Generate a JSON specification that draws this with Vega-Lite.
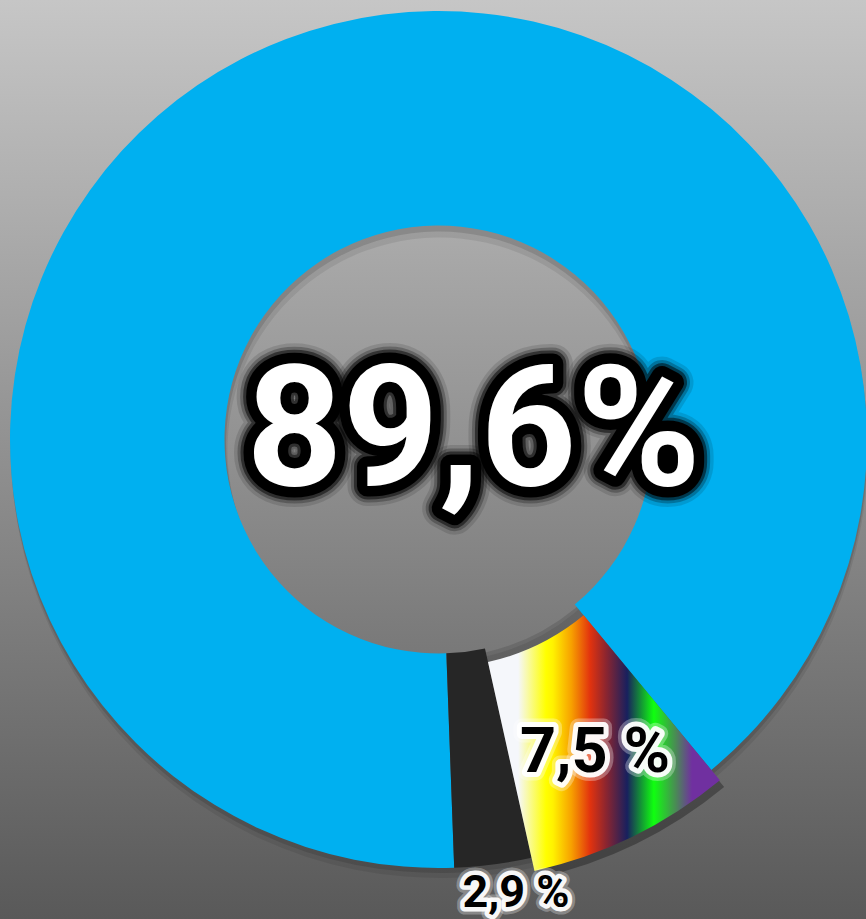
{
  "$schema": "https://vega.github.io/schema/vega-lite/v6.json",
  "autosize": "none",
  "width": 866,
  "height": 919,
  "padding": 0,
  "background": "#8f8f8f",
  "config": {"view": {"stroke": null}},
  "data": {
    "values": [
      {"name": "blue", "value": 89.6, "ord": 1, "label": "89,6%"},
      {"name": "rainbow", "value": 7.5, "ord": 2, "label": "7,5 %"},
      {"name": "dark", "value": 2.9, "ord": 3, "label": "2,9 %"}
    ]
  },
  "layer": [
    {
      "transform": [{"filter": "datum.ord === 1"}],
      "mark": {
        "type": "rect",
        "color": {
          "gradient": "linear", "x1": 0, "y1": 0, "x2": 0, "y2": 1,
          "stops": [{"offset": 0, "color": "#c6c6c6"}, {"offset": 1, "color": "#595959"}]
        }
      },
      "encoding": {}
    },
    {
      "mark": {"type": "arc", "radius": 428.5, "radius2": 212, "xOffset": 6.5, "yOffset": -10, "fill": "#000000", "fillOpacity": 0.08},
      "encoding": {
        "theta": {"field": "value", "type": "quantitative", "stack": true, "scale": {"domain": [0, 100], "range": [3.10494, 9.38813]}},
        "order": {"field": "ord"}
      }
    },
    {
      "mark": {"type": "arc", "radius": 428.5, "radius2": 213, "xOffset": 6, "yOffset": -15, "fill": "#000000", "fillOpacity": 0.12},
      "encoding": {
        "theta": {"field": "value", "type": "quantitative", "stack": true, "scale": {"domain": [0, 100], "range": [3.10494, 9.38813]}},
        "order": {"field": "ord"}
      }
    },
    {
      "mark": {"type": "arc", "radius": 444, "radius2": 230, "xOffset": 8.5, "yOffset": -15, "fill": "#000000"},
      "encoding": {
        "theta": {"field": "value", "type": "quantitative", "stack": true, "scale": {"domain": [0, 100], "range": [3.10494, 9.38813]}},
        "order": {"field": "ord"},
        "fillOpacity": {"condition": {"test": "datum.ord === 2", "value": 0.3}, "value": 0}
      }
    },
    {
      "mark": {"type": "arc", "radius": 428.5, "radius2": 214, "xOffset": 5.5, "yOffset": -20},
      "encoding": {
        "theta": {"field": "value", "type": "quantitative", "stack": true, "scale": {"domain": [0, 100], "range": [3.10494, 9.38813]}},
        "order": {"field": "ord"},
        "color": {"field": "name", "type": "nominal", "legend": null,
          "scale": {"domain": ["blue", "rainbow", "dark"], "range": ["#00b0f0", "rgba(0,0,0,0)", "#262626"]}}
      }
    },
    {
      "mark": {
        "type": "arc", "radius": 442, "radius2": 228, "xOffset": 5.5, "yOffset": -20,
        "fill": {
          "gradient": "linear", "x1": 0, "y1": 0, "x2": 1, "y2": 0,
          "stops": [
            {"offset": 0, "color": "#f5f7fb"},
            {"offset": 0.13, "color": "#f5f7fb"},
            {"offset": 0.25, "color": "#ffff00"},
            {"offset": 0.28, "color": "#fff200"},
            {"offset": 0.36, "color": "#f7a000"},
            {"offset": 0.44, "color": "#e2330e"},
            {"offset": 0.51, "color": "#8b2530"},
            {"offset": 0.6, "color": "#18205e"},
            {"offset": 0.715, "color": "#10ff10"},
            {"offset": 0.81, "color": "#4a8a55"},
            {"offset": 0.88, "color": "#7030a0"},
            {"offset": 1, "color": "#7030a0"}
          ]
        }
      },
      "encoding": {
        "theta": {"field": "value", "type": "quantitative", "stack": true, "scale": {"domain": [0, 100], "range": [3.10494, 9.38813]}},
        "order": {"field": "ord"},
        "fillOpacity": {"condition": {"test": "datum.ord === 2", "value": 1}, "value": 0}
      }
    },
    {
      "transform": [{"filter": "datum.ord === 1"}],
      "mark": {"type": "text", "font": "Roboto", "fontWeight": "bold", "fontSize": 168, "align": "center", "baseline": "alphabetic", "dx": 40.5, "dy": 25.5,
        "fill": "#000000", "stroke": "#000000", "strokeWidth": 40, "strokeOpacity": 0.12, "strokeJoin": "round"},
      "encoding": {"text": {"field": "label"}}
    },
    {
      "transform": [{"filter": "datum.ord === 1"}],
      "mark": {"type": "text", "font": "Roboto", "fontWeight": "bold", "fontSize": 168, "align": "center", "baseline": "alphabetic", "dx": 40.5, "dy": 25.5,
        "fill": "#000000", "stroke": "#000000", "strokeWidth": 33, "strokeOpacity": 0.25, "strokeJoin": "round"},
      "encoding": {"text": {"field": "label"}}
    },
    {
      "transform": [{"filter": "datum.ord === 1"}],
      "mark": {"type": "text", "font": "Roboto", "fontWeight": "bold", "fontSize": 168, "align": "center", "baseline": "alphabetic", "dx": 40.5, "dy": 25.5,
        "fill": "#000000", "stroke": "#000000", "strokeWidth": 27, "strokeOpacity": 0.5, "strokeJoin": "round"},
      "encoding": {"text": {"field": "label"}}
    },
    {
      "transform": [{"filter": "datum.ord === 1"}],
      "mark": {"type": "text", "font": "Roboto", "fontWeight": "bold", "fontSize": 168, "align": "center", "baseline": "alphabetic", "dx": 40.5, "dy": 25.5,
        "fill": "#000000", "stroke": "#000000", "strokeWidth": 21, "strokeOpacity": 1, "strokeJoin": "round"},
      "encoding": {"text": {"field": "label"}}
    },
    {
      "transform": [{"filter": "datum.ord === 1"}],
      "mark": {"type": "text", "font": "Roboto", "fontWeight": "bold", "fontSize": 168, "align": "center", "baseline": "alphabetic", "dx": 40.5, "dy": 25.5, "fill": "#ffffff"},
      "encoding": {"text": {"field": "label"}}
    },
    {
      "mark": {"type": "text", "font": "Roboto", "fontWeight": "bold", "fontSize": 63, "align": "center", "baseline": "alphabetic",
        "radius": 367.5, "thetaOffset": 0.0147, "xOffset": 5.5, "yOffset": -20,
        "fill": "#ffffff", "stroke": "#ffffff", "strokeWidth": 17, "strokeOpacity": 0.3, "strokeJoin": "round"},
      "encoding": {
        "theta": {"field": "value", "type": "quantitative", "stack": true, "scale": {"domain": [0, 100], "range": [3.10494, 9.38813]}},
        "order": {"field": "ord"},
        "text": {"condition": {"test": "datum.ord === 2", "field": "label"}, "value": ""}
      }
    },
    {
      "mark": {"type": "text", "font": "Roboto", "fontWeight": "bold", "fontSize": 63, "align": "center", "baseline": "alphabetic",
        "radius": 367.5, "thetaOffset": 0.0147, "xOffset": 5.5, "yOffset": -20,
        "fill": "#ffffff", "stroke": "#ffffff", "strokeWidth": 10, "strokeOpacity": 0.95, "strokeJoin": "round"},
      "encoding": {
        "theta": {"field": "value", "type": "quantitative", "stack": true, "scale": {"domain": [0, 100], "range": [3.10494, 9.38813]}},
        "order": {"field": "ord"},
        "text": {"condition": {"test": "datum.ord === 2", "field": "label"}, "value": ""}
      }
    },
    {
      "mark": {"type": "text", "font": "Roboto", "fontWeight": "bold", "fontSize": 63, "align": "center", "baseline": "alphabetic",
        "radius": 367.5, "thetaOffset": 0.0147, "xOffset": 5.5, "yOffset": -20, "fill": "#000000"},
      "encoding": {
        "theta": {"field": "value", "type": "quantitative", "stack": true, "scale": {"domain": [0, 100], "range": [3.10494, 9.38813]}},
        "order": {"field": "ord"},
        "text": {"condition": {"test": "datum.ord === 2", "field": "label"}, "value": ""}
      }
    },
    {
      "mark": {"type": "text", "font": "Roboto", "fontWeight": "bold", "fontSize": 45, "align": "center", "baseline": "alphabetic",
        "radius": 473.6, "thetaOffset": -0.0367, "xOffset": 5.5, "yOffset": -20,
        "fill": "#ffffff", "stroke": "#ffffff", "strokeWidth": 15, "strokeOpacity": 0.3, "strokeJoin": "round"},
      "encoding": {
        "theta": {"field": "value", "type": "quantitative", "stack": true, "scale": {"domain": [0, 100], "range": [3.10494, 9.38813]}},
        "order": {"field": "ord"},
        "text": {"condition": {"test": "datum.ord === 3", "field": "label"}, "value": ""}
      }
    },
    {
      "mark": {"type": "text", "font": "Roboto", "fontWeight": "bold", "fontSize": 45, "align": "center", "baseline": "alphabetic",
        "radius": 473.6, "thetaOffset": -0.0367, "xOffset": 5.5, "yOffset": -20,
        "fill": "#ffffff", "stroke": "#ffffff", "strokeWidth": 9, "strokeOpacity": 0.95, "strokeJoin": "round"},
      "encoding": {
        "theta": {"field": "value", "type": "quantitative", "stack": true, "scale": {"domain": [0, 100], "range": [3.10494, 9.38813]}},
        "order": {"field": "ord"},
        "text": {"condition": {"test": "datum.ord === 3", "field": "label"}, "value": ""}
      }
    },
    {
      "mark": {"type": "text", "font": "Roboto", "fontWeight": "bold", "fontSize": 45, "align": "center", "baseline": "alphabetic",
        "radius": 473.6, "thetaOffset": -0.0367, "xOffset": 5.5, "yOffset": -20, "fill": "#000000"},
      "encoding": {
        "theta": {"field": "value", "type": "quantitative", "stack": true, "scale": {"domain": [0, 100], "range": [3.10494, 9.38813]}},
        "order": {"field": "ord"},
        "text": {"condition": {"test": "datum.ord === 3", "field": "label"}, "value": ""}
      }
    }
  ]
}
